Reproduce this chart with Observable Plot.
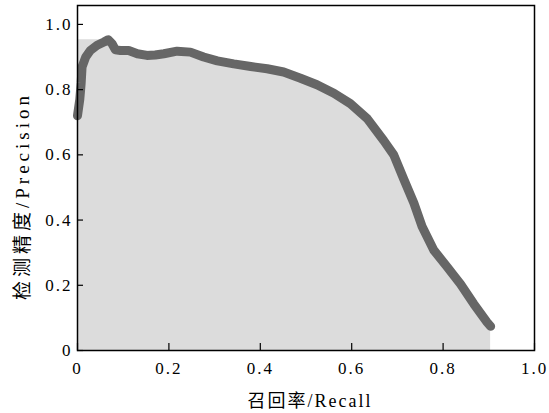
<!DOCTYPE html>
<html><head><meta charset="utf-8">
<script src="https://cdn.jsdelivr.net/npm/d3@7"></script>
<script src="https://cdn.jsdelivr.net/npm/@observablehq/plot@0.6"></script>
<style>body{margin:0;background:#fff}#chart{width:549px;height:413px}</style>
</head><body><div id="chart"></div>
<script>
const recall = [0.000, 0.005, 0.008, 0.010, 0.018, 0.028, 0.043, 0.058, 0.067, 0.076, 0.083, 0.094, 0.112, 0.131, 0.152, 0.170, 0.189, 0.218, 0.247, 0.276, 0.306, 0.342, 0.379, 0.415, 0.451, 0.488, 0.524, 0.561, 0.597, 0.634, 0.670, 0.692, 0.714, 0.736, 0.754, 0.780, 0.809, 0.838, 0.867, 0.896, 0.904];
const precision = [0.720, 0.770, 0.820, 0.870, 0.900, 0.920, 0.936, 0.946, 0.953, 0.940, 0.922, 0.920, 0.920, 0.910, 0.905, 0.906, 0.910, 0.918, 0.915, 0.900, 0.888, 0.879, 0.871, 0.864, 0.854, 0.835, 0.815, 0.789, 0.757, 0.711, 0.644, 0.600, 0.525, 0.452, 0.380, 0.307, 0.256, 0.204, 0.143, 0.087, 0.074];
const xTicks = [0, 0.2, 0.4, 0.6, 0.8, 1.0];
const yTicks = [0, 0.2, 0.4, 0.6, 0.8, 1.0];
const xTitle = "召回率/Recall";
const yTitle = "检测精度/Precision";

const pts = recall.map((r, i) => ({r, p: precision[i]}));
// interpolated (envelope) precision used for the shaded area
const env = recall.map((r, i) => ({r, p: d3.max(precision.slice(i))}));
const fmt = d => d === 0 ? "0" : d.toFixed(1);

const chart = Plot.plot({
  width: 549, height: 413,
  marginLeft: 77, marginRight: 15, marginTop: 5, marginBottom: 63,
  x: {domain: [0, 1]},
  y: {domain: [0, 1.058]},
  style: {fontFamily: "'Liberation Serif','Noto Sans CJK SC',serif", fontSize: "17px", color: "#000", background: "#fff", letterSpacing: "2px"},
  marks: [
    Plot.areaY(env, {x: "r", y: "p", fill: "#dcdcdc"}),
    Plot.line(pts, {x: "r", y: "p", stroke: "#666666", strokeWidth: 9, strokeLinecap: "round", strokeLinejoin: "round"}),
    // inward ticks
    Plot.ruleX(xTicks, {x: d => d, y1: 0, y2: 0, insetBottom: 7, stroke: "#000", strokeWidth: 1.2}),
    Plot.ruleY(yTicks, {y: d => d, x1: 0, x2: 0, insetRight: -6, stroke: "#000", strokeWidth: 1.2}),
    Plot.frame({stroke: "#000", strokeWidth: 1.5}),
    Plot.axisX({ticks: xTicks, tickSize: 0, tickPadding: 11, tickFormat: fmt, label: null, fontSize: 17}),
    Plot.axisY({ticks: yTicks, tickSize: 0, tickPadding: 5, tickFormat: fmt, label: null, fontSize: 17}),
    Plot.text([xTitle], {frameAnchor: "bottom", dx: 4, dy: 56, fontSize: 18, text: d => d}),
    Plot.text([yTitle], {frameAnchor: "left", textAnchor: "middle", rotate: -90, dx: -55, dy: 18, fontSize: 19, text: d => d, style: "letter-spacing:4px"})
  ]
});
chart.querySelectorAll("text").forEach(t => { if (t.textContent === yTitle) t.setAttribute("letter-spacing", "4"); });
document.getElementById("chart").appendChild(chart);
</script>
</body></html>
